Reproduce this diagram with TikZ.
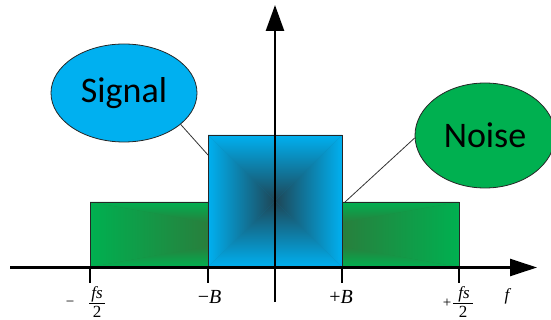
\documentclass[tikz,border=0pt]{standalone}
\usepackage{fontspec}
\setmainfont{Liberation Serif}
\newfontfamily\calfont{Carlito}
\usetikzlibrary{arrows.meta,shapes.geometric}
\definecolor{cyanb}{HTML}{00B0F0}
\definecolor{blued}{HTML}{1E4656}
\definecolor{greenb}{HTML}{00B050}
\definecolor{greend}{HTML}{3F6332}
\tikzset{
  boxline/.style={draw=black!85, line width=0.9pt},
  axisline/.style={line width=2.6pt, black},
  tickline/.style={line width=2.4pt, black},
  bubble/.style={ellipse, draw=black!85, line width=0.8pt, inner sep=0pt},
  bubtext/.style={font=\calfont\fontsize{36}{40}\selectfont},
  callout/.style={draw=black!80, line width=0.8pt},
  lbl/.style={font=\fontsize{20}{22}\selectfont, inner sep=0pt},
  fraclbl/.style={font=\fontsize{17}{19}\selectfont, inner sep=0pt},
  signlbl/.style={font=\fontsize{15}{17}\selectfont, inner sep=0pt},
}
\begin{document}
\begin{tikzpicture}[x=1pt,y=1pt]
\useasboundingbox (0,0) rectangle (551,-320);
% green (noise) band with rectangular gradient
\fill[greenb!60!greend] (90,-202) rectangle (459,-267);
\shade[top color=greenb,bottom color=greend] (90,-202) -- (459,-202) -- (274.5,-234.5) -- cycle;
\shade[bottom color=greenb,top color=greend] (90,-267) -- (459,-267) -- (274.5,-234.5) -- cycle;
\shade[left color=greenb,right color=greend] (90,-202) -- (90,-267) -- (274.5,-234.5) -- cycle;
\shade[right color=greenb,left color=greend] (459,-202) -- (459,-267) -- (274.5,-234.5) -- cycle;
\node[boxline, minimum width=369pt, minimum height=65pt, inner sep=0pt] (noisebox) at (274.5,-234.5) {};
% blue (signal) band with rectangular gradient
\fill[cyanb!55!blued] (208,-135) rectangle (342,-267);
\shade[top color=cyanb,bottom color=blued] (208,-135) -- (342,-135) -- (275,-201) -- cycle;
\shade[bottom color=cyanb,top color=blued] (208,-267) -- (342,-267) -- (275,-201) -- cycle;
\shade[left color=cyanb,right color=blued] (208,-135) -- (208,-267) -- (275,-201) -- cycle;
\shade[right color=cyanb,left color=blued] (342,-135) -- (342,-267) -- (275,-201) -- cycle;
\node[boxline, minimum width=134pt, minimum height=132pt, inner sep=0pt] (sigbox) at (275,-201) {};
% axes
\coordinate (xs) at (10,-267.5);
\coordinate (xe) at (537,-267.5);
\coordinate (ys) at (275,-302);
\coordinate (ye) at (275,-5);
\draw[axisline, -{Triangle[length=27pt,width=17pt]}] (xs) -- (xe);
\draw[axisline, -{Triangle[length=26pt,width=18pt]}] (ys) -- (ye);
% ticks
\foreach \x/\n in {90/a,208/b,342/c,459/d}{
  \coordinate (t\n1) at (\x,-267);
  \coordinate (t\n2) at (\x,-283);
  \draw[tickline] (t\n1) -- (t\n2);
}
% bubbles
\node[bubble, fill=cyanb, minimum width=146pt, minimum height=98pt] (sig) at (124,-93) {};
\node[bubtext] (sigtxt) at (124,-93) {Signal};
\node[bubble, fill=greenb, minimum width=140pt, minimum height=105pt] (noise) at (485,-135.5) {};
\node[bubtext] (noisetxt) at (485,-135.5) {Noise};
\coordinate (sigpt) at (208,-155);
\coordinate (noisept) at (345,-202);
\draw[callout] (sig.-29) -- (sigpt);
\draw[callout] (noise.182) -- (noisept);
% labels
\node[lbl, anchor=base] (mB) at (209.5,-303) {−\textit{B}};
\node[lbl, anchor=base] (pB) at (341,-303) {+\textit{B}};
\node[fraclbl, anchor=base] (ff) at (508,-300) {\textit{f}};
% left fraction
\node[signlbl] (lm) at (70,-304) {−};
\node[fraclbl, anchor=base] (lnum) at (97,-298) {\textit{fs}};
\node[fraclbl, anchor=base] (lden) at (97,-317.5) {2};
\coordinate (lb1) at (89,-303.5);
\coordinate (lb2) at (105,-303.5);
\draw[line width=0.7pt] (lb1) -- (lb2);
% right fraction
\node[signlbl] (rp) at (447,-303) {+};
\node[fraclbl, anchor=base] (rnum) at (464,-298) {\textit{fs}};
\node[fraclbl, anchor=base] (rden) at (463,-317.5) {2};
\coordinate (rb1) at (453,-303.5);
\coordinate (rb2) at (473,-303.5);
\draw[line width=0.7pt] (rb1) -- (rb2);
\end{tikzpicture}
\end{document}
